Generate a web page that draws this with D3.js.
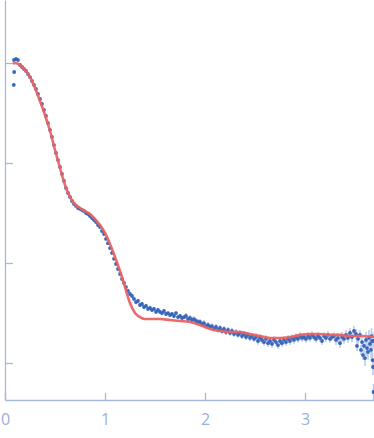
<!DOCTYPE html>
<html>
<head>
<meta charset="utf-8">
<script src="https://cdn.jsdelivr.net/npm/d3@7"></script>
<style>
  body { margin: 0; background: #fff; }
  svg { display: block; font-family: "Open Sans", "DejaVu Sans", sans-serif; }
</style>
</head>
<body>
<svg width="374" height="438"></svg>
<script>
// measured curve: [q, I]
var observed = [
  [0.088, 0.603], [0.092, 0.813],
  [0.09, 1.072], [0.11, 1.096], [0.13, 1.072], [0.15, 0.955], [0.17, 0.912], [0.19, 0.871],
  [0.21, 0.832], [0.23, 0.776], [0.25, 0.724], [0.27, 0.661], [0.29, 0.603], [0.31, 0.550],
  [0.33, 0.490], [0.35, 0.437], [0.37, 0.389], [0.39, 0.339], [0.41, 0.295], [0.43, 0.251],
  [0.45, 0.214], [0.47, 0.182], [0.49, 0.151], [0.51, 0.126], [0.53, 0.107], [0.55, 0.0912],
  [0.57, 0.0776], [0.59, 0.0661], [0.61, 0.0562], [0.63, 0.0501], [0.65, 0.0457], [0.67, 0.0417],
  [0.69, 0.0389], [0.71, 0.0372], [0.73, 0.0355], [0.75, 0.0347], [0.77, 0.0339], [0.79, 0.0331],
  [0.81, 0.0316], [0.83, 0.0309], [0.85, 0.0295], [0.87, 0.0282], [0.89, 0.0269], [0.91, 0.0257],
  [0.93, 0.0240], [0.95, 0.0229], [0.97, 0.0209], [0.99, 0.0195], [1.01, 0.0174], [1.03, 0.0158],
  [1.05, 0.0141], [1.07, 0.0126], [1.09, 0.0110], [1.11, 0.00977], [1.13, 0.00871], [1.15, 0.00776],
  [1.17, 0.00692], [1.19, 0.00631], [1.21, 0.00575], [1.23, 0.00525], [1.25, 0.00490], [1.27, 0.00468],
  [1.29, 0.00437], [1.31, 0.00407], [1.33, 0.00417], [1.35, 0.00380], [1.37, 0.00389], [1.39, 0.00363],
  [1.41, 0.00372], [1.43, 0.00347], [1.45, 0.00355], [1.47, 0.00339], [1.49, 0.00347], [1.51, 0.00324],
  [1.53, 0.00339], [1.55, 0.00324], [1.57, 0.00316], [1.59, 0.00331], [1.61, 0.00309], [1.63, 0.00316],
  [1.65, 0.00302], [1.67, 0.00309], [1.69, 0.00295], [1.71, 0.00316], [1.73, 0.00288], [1.75, 0.00295],
  [1.77, 0.00282], [1.79, 0.00288], [1.81, 0.00295], [1.83, 0.00275], [1.85, 0.00282], [1.87, 0.00269],
  [1.89, 0.00275], [1.91, 0.00263], [1.93, 0.00257], [1.95, 0.00257], [1.97, 0.00245], [1.99, 0.00251],
  [2.01, 0.00234], [2.03, 0.00240], [2.05, 0.00229], [2.07, 0.00234], [2.09, 0.00219], [2.11, 0.00229],
  [2.13, 0.00214], [2.15, 0.00224], [2.17, 0.00209], [2.19, 0.00219], [2.21, 0.00204], [2.23, 0.00214],
  [2.25, 0.00200], [2.27, 0.00209], [2.29, 0.00195], [2.31, 0.00204], [2.33, 0.00191], [2.35, 0.00200],
  [2.37, 0.00186], [2.39, 0.00195], [2.41, 0.00182], [2.43, 0.00191], [2.45, 0.00178], [2.47, 0.00186],
  [2.49, 0.00174], [2.51, 0.00182], [2.53, 0.00166], [2.55, 0.00178], [2.57, 0.00170], [2.59, 0.00162],
  [2.61, 0.00174], [2.63, 0.00158], [2.65, 0.00166], [2.67, 0.00155], [2.69, 0.00170], [2.71, 0.00162],
  [2.73, 0.00151], [2.75, 0.00166], [2.77, 0.00158], [2.79, 0.00170], [2.81, 0.00162], [2.83, 0.00174],
  [2.85, 0.00166], [2.87, 0.00178], [2.89, 0.00170], [2.91, 0.00182], [2.93, 0.00174], [2.95, 0.00186],
  [2.97, 0.00178], [2.99, 0.00182], [3.01, 0.00174], [3.03, 0.00186], [3.05, 0.00178], [3.07, 0.00191],
  [3.09, 0.00182], [3.11, 0.00174], [3.13, 0.00186], [3.15, 0.00178], [3.17, 0.00166], [3.19, 0.00186],
  [3.21, 0.00178], [3.23, 0.00191], [3.25, 0.00174], [3.27, 0.00182], [3.29, 0.00186], [3.31, 0.00170],
  [3.33, 0.00178], [3.35, 0.00158], [3.37, 0.00182], [3.39, 0.00174], [3.41, 0.00191], [3.43, 0.00178],
  [3.45, 0.00200], [3.47, 0.00182], [3.49, 0.00209], [3.51, 0.00195], [3.52, 0.00148], [3.53, 0.00174],
  [3.55, 0.00191], [3.56, 0.00135], [3.57, 0.00162], [3.58, 0.00120], [3.59, 0.00148], [3.60, 0.00112],
  [3.61, 0.00170], [3.62, 0.00141], [3.63, 0.00129], [3.64, 0.00178], [3.65, 0.00155], [3.66, 0.00135],
  [3.665, 0.00186], [3.67, 0.00166], [3.675, 0.00107], [3.68, 0.000912], [3.685, 0.000513], [3.69, 0.00166]
];

// relative error by q range: [q from, rel err]
var errBands = [[0, 0.004], [0.6, 0.012], [1.2, 0.05], [1.8, 0.07], [2.5, 0.09], [3.3, 0.12], [3.6, 0.2]];

// model fit: [q, I]
var fit = [
  [0.08, 0.977], [0.10, 1.000], [0.15, 0.955], [0.20, 0.851], [0.25, 0.724], [0.30, 0.562],
  [0.35, 0.417], [0.40, 0.302], [0.45, 0.209], [0.50, 0.135], [0.55, 0.0891], [0.60, 0.0603],
  [0.65, 0.0457], [0.70, 0.0389], [0.75, 0.0355], [0.80, 0.0331], [0.85, 0.0309], [0.90, 0.0275],
  [0.95, 0.0240], [1.00, 0.0200], [1.05, 0.0155], [1.10, 0.0115], [1.15, 0.00832], [1.20, 0.00575],
  [1.25, 0.00398], [1.30, 0.00316], [1.35, 0.00288], [1.40, 0.00275], [1.55, 0.00275], [1.65, 0.00269],
  [1.75, 0.00263], [1.85, 0.00257], [1.95, 0.00240], [2.05, 0.00219], [2.15, 0.00209], [2.25, 0.00204],
  [2.35, 0.00204], [2.45, 0.00195], [2.55, 0.00186], [2.65, 0.00178], [2.75, 0.00178], [2.85, 0.00182],
  [2.95, 0.00191], [3.05, 0.00195], [3.15, 0.00195], [3.25, 0.00191], [3.35, 0.00191], [3.45, 0.00186],
  [3.55, 0.00186], [3.69, 0.00182]
];

var xTicks = [0, 1, 2, 3];
var yTicks = [1, 0.1, 0.01, 0.001];

function relErr(q) {
    var e = errBands[0][1];
    errBands.forEach(function(b) { if (q >= b[0]) e = b[1]; });
    return e;
}

function draw() {
    var svg = d3.select("svg");
    var axisColor = "#a7b9de";

    var scX = d3.scaleLinear().domain([0, 3.69]).range([5, 374]);
    var scY = d3.scaleLog().domain([Math.pow(10, -3.37), Math.pow(10, 0.63)]).range([400, 0]);

    // axes
    var gx = svg.append("g")
        .attr("transform", "translate(0,400)")
        .call(d3.axisBottom(scX).tickValues(xTicks).tickSizeInner(-7).tickSizeOuter(0)
            .tickPadding(14).tickFormat(d3.format("d")));
    var gy = svg.append("g")
        .attr("transform", "translate(5,0)")
        .call(d3.axisLeft(scY).tickValues(yTicks).tickSizeInner(-8).tickSizeOuter(0).tickFormat(""));

    [gx, gy].forEach(function(g) {
        g.select(".domain").attr("stroke", axisColor).attr("stroke-width", 1.3);
        g.selectAll(".tick line").attr("stroke", axisColor).attr("stroke-width", 1.3);
    });
    gx.selectAll(".tick text")
        .attr("fill", "#9cb0d9")
        .attr("font-size", 16)
        .attr("font-family", "'Open Sans', sans-serif");

    var plot = svg.append("g");

    // error bars
    plot.selectAll("line.err")
        .data(observed)
        .enter()
        .append("line")
        .attr("class", "err")
        .attr("x1", d => scX(d[0]))
        .attr("x2", d => scX(d[0]))
        .attr("y1", d => scY(d[1] * (1 + relErr(d[0]))))
        .attr("y2", d => scY(d[1] / (1 + relErr(d[0]))))
        .attr("stroke", "#b9cbec")
        .attr("stroke-width", 1.6);

    // points
    plot.selectAll("circle")
        .data(observed)
        .enter()
        .append("circle")
        .attr("r", 1.9)
        .attr("cx", d => scX(d[0]))
        .attr("cy", d => scY(d[1]))
        .attr("fill", "#3866b8");

    // fit
    var lineMaker = d3.line()
        .curve(d3.curveMonotoneX)
        .x(d => scX(d[0]))
        .y(d => scY(d[1]));
    plot.append("path")
        .attr("fill", "none")
        .attr("stroke", "#ea6262")
        .attr("stroke-width", 2.6)
        .attr("stroke-opacity", 0.95)
        .attr("d", lineMaker(fit));
}

draw();
</script>
</body>
</html>
